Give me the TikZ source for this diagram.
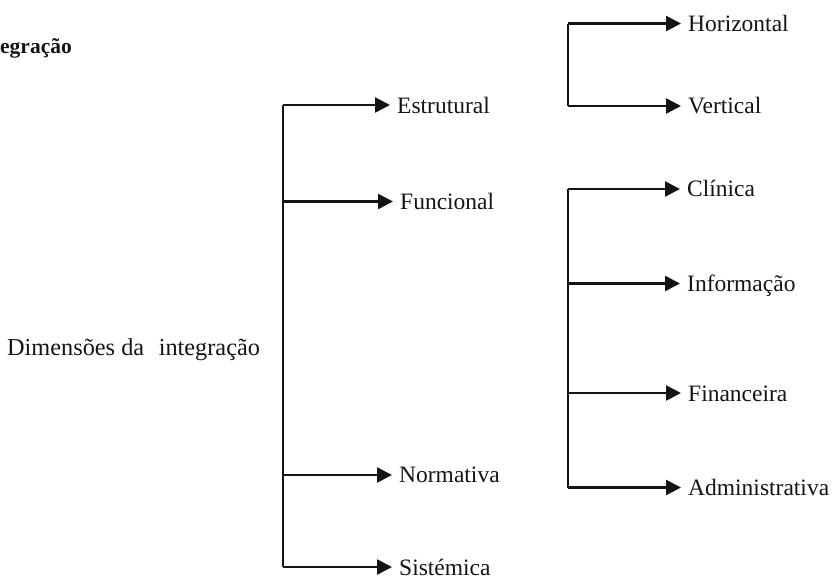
\documentclass[tikz,border=0pt]{standalone}
\usepackage{fontspec}
\setmainfont{Liberation Serif}
\usetikzlibrary{arrows.meta}
\begin{document}
\begin{tikzpicture}[x=1pt,y=-1pt,
  lbl/.style={anchor=base west,inner sep=0pt,font=\fontsize{23.5}{26}\selectfont,text=black!92},
  arr/.style={line width=2.5pt,draw=black!92,-{Triangle[length=15pt,width=15pt]},shorten >=7pt},
  trunk/.style={line width=2.5pt,draw=black!92}]
\useasboundingbox (0,0) rectangle (832,581);
% title fragment
\node[anchor=base west,inner sep=0pt,font=\fontsize{21.5}{24}\bfseries\selectfont,text=black!92] (title) at (0,53) {egração};
% root
\node[lbl,font=\fontsize{24.3}{27}\selectfont] (root) at (7,355) {Dimensões da\hspace{0.6em}integração};
% first level
\node[lbl] (est) at (397,113) {Estrutural};
\node[lbl] (fun) at (400,209) {Funcional};
\node[lbl] (nor) at (399,482) {Normativa};
\node[lbl] (sis) at (399,575) {Sistémica};
\coordinate (a1) at (283,105);
\coordinate (a2) at (283,201.5);
\coordinate (a3) at (283,475);
\coordinate (a4) at (283,567);
\draw[trunk] (a1) -- (a4);
\draw[arr] (a1) -- (a1 -| est.west);
\draw[arr] (a2) -- (a2 -| fun.west);
\draw[arr] (a3) -- (a3 -| nor.west);
\draw[arr] (a4) -- (a4 -| sis.west);
% structural branch
\node[lbl] (hor) at (688,31) {Horizontal};
\node[lbl] (ver) at (688,113.5) {Vertical};
\coordinate (b1) at (568,23.5);
\coordinate (b2) at (568,106);
\draw[trunk] (b1) -- (b2);
\draw[arr] (b1) -- (b1 -| hor.west);
\draw[arr] (b2) -- (b2 -| ver.west);
% functional branch
\node[lbl] (cli) at (687,196.5) {Clínica};
\node[lbl] (inf) at (687,291) {Informação};
\node[lbl] (fin) at (688,401) {Financeira};
\node[lbl] (adm) at (688,495) {Administrativa};
\coordinate (c1) at (568,189);
\coordinate (c2) at (568,283.5);
\coordinate (c3) at (568,393);
\coordinate (c4) at (568,487.5);
\draw[trunk] (c1) -- (c4);
\draw[arr] (c1) -- (c1 -| cli.west);
\draw[arr] (c2) -- (c2 -| inf.west);
\draw[arr] (c3) -- (c3 -| fin.west);
\draw[arr] (c4) -- (c4 -| adm.west);
\end{tikzpicture}
\end{document}
